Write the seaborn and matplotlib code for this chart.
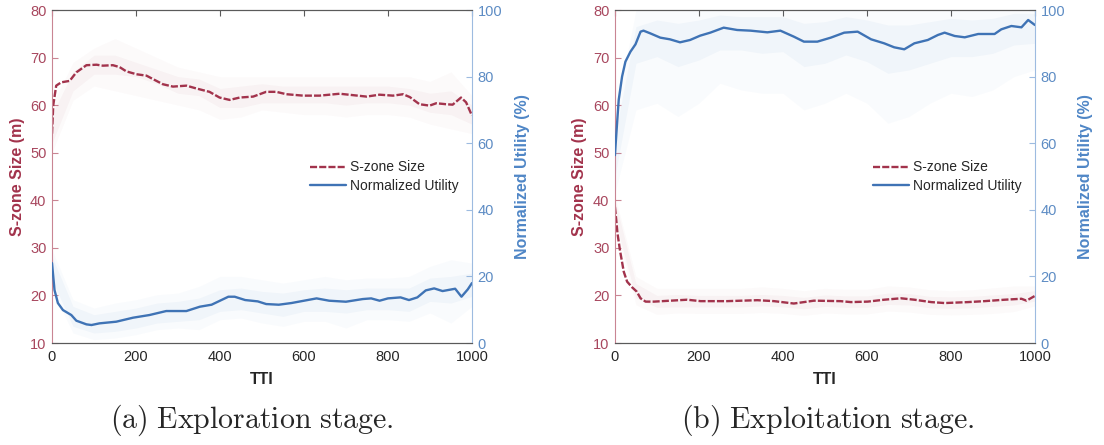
import seaborn as sns
import matplotlib.pyplot as plt
import pandas as pd

# ---- smoothed curves ----
# (a) exploration stage
tti_size_a = [0, 3, 10, 22, 42, 58, 82, 106, 121, 145, 161, 177, 201, 225, 240, 264, 288, 320, 344, 375,
              399, 423, 447, 479, 510, 534, 558, 598, 637, 685, 717, 749, 780, 812, 836, 852, 875, 899,
              915, 938, 954, 974, 986, 1000]
size_a = [54.0, 60.0, 64.1, 64.8, 65.1, 66.9, 68.4, 68.5, 68.3, 68.4, 68.0, 67.1, 66.5, 66.2, 65.5, 64.4,
          63.9, 64.1, 63.5, 62.8, 61.6, 61.1, 61.6, 61.8, 62.8, 62.8, 62.3, 62.0, 62.0, 62.4, 62.1, 61.8,
          62.2, 62.0, 62.3, 61.7, 60.2, 59.9, 60.4, 60.2, 60.1, 61.6, 60.6, 57.8]

tti_util_a = [0, 6, 14, 26, 46, 58, 82, 94, 113, 153, 193, 232, 272, 320, 352, 380, 400, 420, 435, 460,
              490, 510, 540, 570, 600, 630, 660, 700, 740, 760, 780, 800, 830, 850, 870, 890, 910, 930,
              960, 975, 990, 1000]
util_a = [24.0, 15.9, 12.0, 9.9, 8.4, 6.7, 5.6, 5.4, 5.9, 6.4, 7.6, 8.4, 9.6, 9.6, 10.9, 11.5, 12.7, 13.9,
          13.9, 12.9, 12.5, 11.7, 11.5, 12.0, 12.7, 13.4, 12.7, 12.4, 13.2, 13.4, 12.7, 13.4, 13.7, 12.9,
          13.7, 15.8, 16.4, 15.6, 16.3, 13.9, 16.1, 18.0]

# (b) exploitation stage
tti_size_b = [0, 3, 6, 12, 21, 29, 41, 52, 61, 73, 93, 133, 172, 204, 267, 339, 379, 426, 474, 537, 562,
              602, 641, 681, 713, 753, 785, 841, 880, 928, 968, 980, 1000]
size_b = [38.6, 36.0, 33.1, 29.5, 25.0, 22.9, 21.7, 20.8, 19.4, 18.7, 18.7, 18.9, 19.1, 18.8, 18.8, 19.0,
          18.8, 18.3, 18.9, 18.8, 18.6, 18.7, 19.1, 19.4, 19.1, 18.6, 18.4, 18.6, 18.8, 19.1, 19.3, 18.9, 19.9]

tti_util_b = [0, 4, 9, 17, 25, 37, 49, 61, 68, 84, 108, 131, 155, 179, 203, 227, 259, 291, 323, 363, 394,
              426, 450, 482, 514, 546, 578, 610, 641, 665, 689, 713, 745, 769, 785, 809, 833, 865, 904,
              920, 944, 968, 984, 1000]
util_b = [56.4, 64.0, 73.0, 80.0, 84.5, 87.5, 89.7, 93.5, 93.8, 93.0, 91.7, 91.2, 90.3, 91.0, 92.3, 93.2,
          94.7, 94.0, 93.8, 93.3, 93.8, 92.0, 90.5, 90.5, 91.7, 93.2, 93.5, 91.2, 90.0, 88.8, 88.2, 90.0,
          91.0, 92.5, 93.2, 92.2, 91.8, 92.8, 92.8, 94.2, 95.2, 94.8, 97.0, 95.5]

# ---- spread of the raw (unsmoothed) traces, read every 50 TTI ----
band_tti = [0, 50, 100, 150, 200, 250, 300, 350, 400, 450, 500, 550, 600, 650, 700, 750, 800, 850, 900, 950, 1000]

size_a_in_hi = [58, 67, 70.5, 70.5, 69, 67.5, 66, 65.5, 63.5, 64, 64.5, 64, 64, 64, 64, 64, 64, 63.5, 62.5, 63, 60]
size_a_in_lo = [52, 63, 66.5, 66.5, 66, 64.5, 62.5, 62, 59.5, 59.5, 60.5, 60.5, 60.5, 60.5, 60, 60.5, 60.5, 60, 58.5, 58, 56]
size_a_out_hi = [60, 69, 72, 74, 72, 70, 68, 67, 66, 66, 66, 66, 66, 66, 66, 66, 66, 66, 65, 67, 62]
size_a_out_lo = [50, 61, 64, 63, 62, 61, 60, 59, 57, 57.5, 59, 58.5, 58, 58, 57.5, 58, 58, 57.5, 56, 55, 54]

util_a_in_hi = [26, 11, 8.5, 9.5, 10.5, 12, 12.5, 13.5, 16, 16.5, 15.5, 15, 16, 16.5, 16, 16.5, 16.5, 16.5, 19.5, 20, 21]
util_a_in_lo = [19, 5, 3, 3.5, 4.5, 6, 6.5, 7, 9.5, 10, 9, 8, 9.5, 9.5, 9, 10, 10, 9.5, 12.5, 12, 14]
util_a_out_hi = [28, 13, 10.5, 12, 13, 14.5, 15, 17, 20, 20, 19, 18, 19, 20, 19, 19.5, 19.5, 20, 23, 25, 24]
util_a_out_lo = [16, 3, 1, 1.5, 2.5, 4, 4.5, 4, 7, 7.5, 6, 5, 6.5, 6.5, 4.5, 7, 7, 6.5, 9, 6, 11]

size_b_in_hi = [40, 22.5, 20, 20.2, 20, 20, 20, 20.2, 20, 19.6, 20.1, 19.9, 19.9, 20.5, 20.4, 19.8, 19.7, 19.8, 20.1, 20.4, 21]
size_b_in_lo = [36, 19.5, 17.5, 17.6, 17.6, 17.6, 17.6, 17.8, 17.6, 17.2, 17.7, 17.5, 17.5, 18.1, 18, 17.4, 17.3, 17.4, 17.7, 18, 18.8]
size_b_out_hi = [41, 24, 21.5, 21.5, 21.5, 21.5, 21.5, 21.8, 21.5, 21, 21.5, 21.3, 21.3, 22, 21.8, 21.2, 21, 21.2, 21.6, 22, 22]
size_b_out_lo = [35, 18, 16, 16.3, 16.2, 16.2, 16.2, 16.4, 16.2, 15.8, 16.3, 16.1, 16.1, 16.7, 16.5, 16, 15.9, 16, 16.2, 16.6, 17.8]

util_b_in_hi = [62, 95, 97, 96, 97, 98.5, 98, 98, 98, 96, 96.5, 98, 97, 95.5, 95.5, 96.5, 97.5, 97, 97.5, 99, 99]
util_b_in_lo = [50, 84, 86, 83, 85, 88, 88, 87, 87.5, 83, 84, 86.5, 84.5, 81, 82, 84, 86, 86, 87, 89.5, 90]
util_b_out_hi = [68, 100, 100, 100, 100, 100, 100, 100, 100, 100, 100, 100, 100, 100, 100, 100, 100, 100, 100, 100, 100]
util_b_out_lo = [45, 70, 72, 68, 72, 78, 76, 75, 75, 70, 72, 75, 72, 66, 68, 72, 75, 74, 76, 80, 82]

RED = "#a2334c"
RED_TXT = "#a8475e"
RED_SPINE = "#c98593"
BLUE = "#3f73b5"
BLUE_TXT = "#5d8cc4"
BLUE_SPINE = "#9dbbe0"
GRAY = "#5a5a5a"

sns.set_style("white")
plt.rcParams["font.family"] = ["Liberation Sans", "DejaVu Sans"]
plt.rcParams["mathtext.fontset"] = "cm"

fig = plt.figure(figsize=(11.04, 4.45), dpi=100)

panels = [
    dict(pos=[0.0471, 0.2292, 0.3804, 0.7483],
         size=(tti_size_a, size_a), util=(tti_util_a, util_a),
         sband=(size_a_in_lo, size_a_in_hi, size_a_out_lo, size_a_out_hi),
         uband=(util_a_in_lo, util_a_in_hi, util_a_out_lo, util_a_out_hi),
         caption=r"$\mathrm{(a)\ Exploration\ stage.}$", cx=0.228),
    dict(pos=[0.5570, 0.2292, 0.3804, 0.7483],
         size=(tti_size_b, size_b), util=(tti_util_b, util_b),
         sband=(size_b_in_lo, size_b_in_hi, size_b_out_lo, size_b_out_hi),
         uband=(util_b_in_lo, util_b_in_hi, util_b_out_lo, util_b_out_hi),
         caption=r"$\mathrm{(b)\ Exploitation\ stage.}$", cx=0.750),
]

for p in panels:
    ax = fig.add_axes(p["pos"])
    ax2 = ax.twinx()

    lo, hi, olo, ohi = p["sband"]
    ax.fill_between(band_tti, olo, ohi, color=RED, alpha=0.025, lw=0)
    ax.fill_between(band_tti, lo, hi, color=RED, alpha=0.04, lw=0)
    size_df = pd.DataFrame({"TTI": p["size"][0], "size": p["size"][1]})
    sns.lineplot(data=size_df, x="TTI", y="size", ax=ax, color=RED, lw=1.7,
                 dashes=False, label="S-zone Size", legend=False)
    ax.lines[-1].set_dashes((3.0, 0.9))

    lo, hi, olo, ohi = p["uband"]
    ax2.fill_between(band_tti, olo, ohi, color="#7aa6d8", alpha=0.04, lw=0)
    ax2.fill_between(band_tti, lo, hi, color="#7aa6d8", alpha=0.07, lw=0)
    util_df = pd.DataFrame({"TTI": p["util"][0], "util": p["util"][1]})
    sns.lineplot(data=util_df, x="TTI", y="util", ax=ax2, color=BLUE, lw=1.7,
                 label="Normalized Utility", legend=False)

    ax.set_xlim(0, 1000)
    ax.set_ylim(10, 80)
    ax2.set_ylim(0, 100)
    ax.set_xticks([0, 200, 400, 600, 800, 1000])
    ax.set_yticks([10, 20, 30, 40, 50, 60, 70, 80])
    ax2.set_yticks([0, 20, 40, 60, 80, 100])

    ax.set_xlabel("TTI", fontsize=11.5, fontweight="bold", color="#262626", labelpad=6)
    ax.set_ylabel("S-zone Size (m)", fontsize=11.5, fontweight="bold", color=RED, labelpad=4)
    ax2.set_ylabel("Normalized Utility (%)", fontsize=11.5, fontweight="bold", color="#4f86c6", labelpad=9)

    ax.tick_params(axis="x", direction="in", length=4, width=0.8, colors=GRAY, labelsize=10.5,
                   labelcolor="#262626", top=True, pad=5)
    ax.tick_params(axis="y", direction="in", length=4, width=0.8, colors=RED_SPINE, labelsize=10.5,
                   labelcolor=RED_TXT, pad=4)
    ax2.tick_params(axis="y", direction="in", length=4, width=0.8, colors=BLUE_SPINE, labelsize=10.5,
                    labelcolor=BLUE_TXT, pad=4)

    for a in (ax, ax2):
        a.spines["top"].set_color(GRAY)
        a.spines["bottom"].set_color(GRAY)
        a.spines["top"].set_linewidth(0.8)
        a.spines["bottom"].set_linewidth(0.8)
    ax.spines["left"].set_color(RED_SPINE)
    ax2.spines["left"].set_visible(False)
    ax.spines["right"].set_visible(False)
    ax2.spines["right"].set_color(BLUE_SPINE)

    handles = [ax.lines[-1], ax2.lines[-1]]
    ax2.legend(handles, ["S-zone Size", "Normalized Utility"], loc="center left",
               bbox_to_anchor=(0.585, 0.5), frameon=False, fontsize=10, handlelength=2.6,
               handletextpad=0.3, labelspacing=0.3)

    fig.text(p["cx"], 0.056, p["caption"], ha="center", va="center", fontsize=21.5)

fig.savefig("out.png", dpi=100)
